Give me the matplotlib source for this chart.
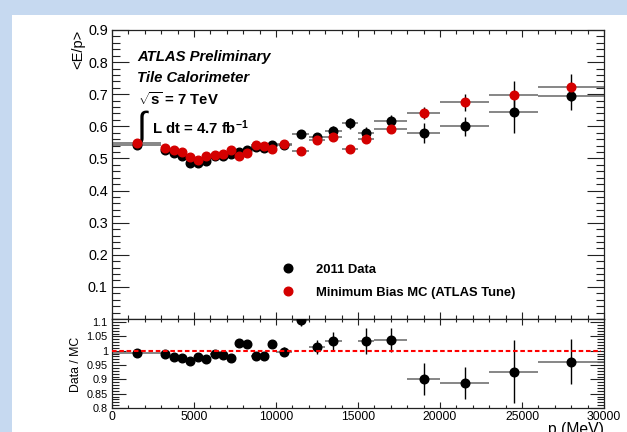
import matplotlib
matplotlib.use("Agg")
import matplotlib.pyplot as plt
from matplotlib.lines import Line2D
from matplotlib.patches import Rectangle
from matplotlib.ticker import MultipleLocator

plt.rcParams['font.family'] = ['Liberation Sans', 'DejaVu Sans']
plt.rcParams['mathtext.fontset'] = 'custom'
plt.rcParams['mathtext.rm'] = 'Liberation Sans:bold'
plt.rcParams['mathtext.it'] = 'Liberation Sans:bold'
plt.rcParams['mathtext.bf'] = 'Liberation Sans:bold'

# ── Data ──────────────────────────────────────────────────────────────────────
p_center = [1500, 3250, 3750, 4250, 4750, 5250, 5750, 6250, 6750, 7250, 7750,
            8250, 8750, 9250, 9750, 10500, 11500, 12500, 13500, 14500, 15500,
            17000, 19000, 21500, 24500, 28000]
p_halfwidth = [1500] + [250] * 14 + [500] * 6 + [1000, 1000, 1500, 1500, 2000]

ep_data = [0.543, 0.525, 0.517, 0.509, 0.485, 0.485, 0.491, 0.507, 0.509, 0.514,
           0.519, 0.525, 0.535, 0.531, 0.542, 0.543, 0.577, 0.566, 0.585, 0.609,
           0.578, 0.616, 0.578, 0.600, 0.645, 0.694]
ep_data_err = [0.005] * 14 + [0.008, 0.010, 0.012, 0.012, 0.015, 0.017, 0.020,
                              0.020, 0.031, 0.030, 0.066, 0.042]

ep_mc = [0.548, 0.533, 0.527, 0.521, 0.503, 0.495, 0.507, 0.511, 0.514, 0.525,
         0.507, 0.517, 0.543, 0.540, 0.529, 0.545, 0.522, 0.557, 0.566, 0.530,
         0.559, 0.593, 0.642, 0.675, 0.697, 0.721]
ep_mc_err = [0.004] * 15 + [0.006, 0.008, 0.010, 0.010, 0.010, 0.012, 0.012,
                            0.018, 0.026, 0.045, 0.041]

ratio = [0.991, 0.987, 0.978, 0.973, 0.964, 0.978, 0.972, 0.987, 0.984, 0.976,
         1.026, 1.022, 0.980, 0.980, 1.023, 0.997, 1.107, 1.014, 1.034, 1.150,
         1.035, 1.037, 0.901, 0.889, 0.927, 0.962]
ratio_err = [0.006] + [0.009] * 13 + [0.015, 0.015, 0.020, 0.024, 0.031, 0.030,
                                      0.045, 0.041, 0.055, 0.056, 0.110, 0.078]

main_yticks = [0.0, 0.1, 0.2, 0.3, 0.4, 0.5, 0.6, 0.7, 0.8, 0.9]
main_ylabels = ["", "0.1", "0.2", "0.3", "0.4", "0.5", "0.6", "0.7", "0.8", "0.9"]
ratio_yticks = [0.8, 0.85, 0.9, 0.95, 1.0, 1.05, 1.1]
ratio_ylabels = ["0.8", "0.85", "0.9", "0.95", "1", "1.05", "1.1"]
xticks = [0, 5000, 10000, 15000, 20000, 25000, 30000]

RED = "#d40000"
MS = 6.2
W, H = 627, 432

# ── Figure ────────────────────────────────────────────────────────────────────
fig = plt.figure(figsize=(W / 100, H / 100), dpi=100)
fig.patch.set_facecolor("#c6d9f0")
fig.add_artist(Rectangle((12 / W, 0), 1 - 12 / W, (H - 15) / H,
                         transform=fig.transFigure, facecolor="white",
                         edgecolor="none", zorder=0))

ax = fig.add_axes([112 / W, (H - 319) / H, 492 / W, 289 / H])
rax = fig.add_axes([112 / W, (H - 408) / H, 492 / W, 89 / H])


def style_axis(a, ymaj_len, ymin_len, xmaj_len, xmin_len):
    for s in a.spines.values():
        s.set_linewidth(0.9)
        s.set_color("#222222")
    a.tick_params(which="both", direction="in", top=True, right=True,
                  color="#222222", width=0.8)
    a.tick_params(axis="y", which="major", length=ymaj_len)
    a.tick_params(axis="y", which="minor", length=ymin_len)
    a.tick_params(axis="x", which="major", length=xmaj_len)
    a.tick_params(axis="x", which="minor", length=xmin_len)


# main panel
ax.errorbar(p_center, ep_data, xerr=p_halfwidth, fmt="none", ecolor="#666666",
            elinewidth=1.1, capsize=0, zorder=2)
ax.errorbar(p_center, ep_data, yerr=ep_data_err, fmt="none", ecolor="black",
            elinewidth=1.0, capsize=0, zorder=2)
ax.plot(p_center, ep_data, "o", color="black", markersize=MS, zorder=3)
ax.errorbar(p_center, ep_mc, xerr=p_halfwidth, fmt="none", ecolor="#666666",
            elinewidth=1.1, capsize=0, zorder=2)
ax.errorbar(p_center, ep_mc, yerr=ep_mc_err, fmt="none", ecolor="black",
            elinewidth=1.0, capsize=0, zorder=2)
ax.plot(p_center, ep_mc, "o", color=RED, markeredgecolor=RED, markersize=MS,
        zorder=4)

ax.set_xlim(0, 30000)
ax.set_ylim(0, 0.9)
ax.set_xticks(xticks)
ax.xaxis.set_minor_locator(MultipleLocator(1000))
ax.set_yticks(main_yticks, main_ylabels)
ax.yaxis.set_minor_locator(MultipleLocator(0.02))
style_axis(ax, 12.2, 5.8, 5.0, 2.9)
ax.tick_params(axis="x", labelbottom=False)
ax.tick_params(axis="y", labelsize=10.4, pad=3)

ax.text(-0.069, 1.0, "<E/p>", transform=ax.transAxes, rotation=90,
        ha="center", va="top", fontsize=10.5)

ax.text(0.051, 0.908, "ATLAS Preliminary", transform=ax.transAxes,
        fontsize=10.7, fontweight="bold", fontstyle="italic", va="center")
ax.text(0.051, 0.834, "Tile Calorimeter", transform=ax.transAxes,
        fontsize=10.7, fontweight="bold", fontstyle="italic", va="center")
ax.text(0.053, 0.758, r"$\sqrt{s}$ = 7 TeV", transform=ax.transAxes,
        fontsize=10.7, fontweight="bold", va="center")
ax.text(0.061, 0.664, "\u222b", transform=ax.transAxes, fontsize=26,
        va="center", ha="center")
ax.text(0.081, 0.662, r"L dt = 4.7 fb$^{-1}$", transform=ax.transAxes,
        fontsize=10.7, fontweight="bold", va="center")

handles = [Line2D([], [], marker="o", ls="none", color="black", markersize=MS),
           Line2D([], [], marker="o", ls="none", color=RED, markersize=MS)]
ax.legend(handles, ["2011 Data", "Minimum Bias MC (ATLAS Tune)"],
          loc="upper left", bbox_to_anchor=(0.3445, 0.1914), frameon=False,
          borderpad=0, borderaxespad=0, handlelength=1.0, handletextpad=1.65,
          labelspacing=0.83, prop={"size": 9.4, "weight": "bold"})

# ratio panel
rax.errorbar(p_center, ratio, xerr=p_halfwidth, fmt="none", ecolor="#666666",
             elinewidth=1.1, capsize=0, zorder=2)
rax.errorbar(p_center, ratio, yerr=ratio_err, fmt="none", ecolor="black",
             elinewidth=1.0, capsize=0, zorder=2)
rax.plot(p_center, ratio, "o", color="black", markersize=MS, zorder=3)
rax.plot([0, 29800], [1.0, 1.0], color="red", lw=1.5, dashes=(2.2, 1.3),
         zorder=4)

rax.set_xlim(0, 30000)
rax.set_ylim(0.8, 1.111)
rax.set_xticks(xticks, [str(t) for t in xticks])
rax.xaxis.set_minor_locator(MultipleLocator(1000))
rax.set_yticks(ratio_yticks, ratio_ylabels)
rax.yaxis.set_minor_locator(MultipleLocator(0.01))
style_axis(rax, 10.0, 5.0, 4.0, 2.2)
rax.tick_params(axis="x", labelsize=8.8, pad=2)
rax.tick_params(axis="y", labelsize=7.8, pad=3)

rax.text(-0.073, 0.494, "Data / MC", transform=rax.transAxes, rotation=90,
         ha="center", va="center", fontsize=8.8)
rax.text(1.0, -0.16, "p (MeV)", transform=rax.transAxes, ha="right",
         va="top", fontsize=11.3)

fig.savefig("out.png", dpi=100, facecolor=fig.get_facecolor())
